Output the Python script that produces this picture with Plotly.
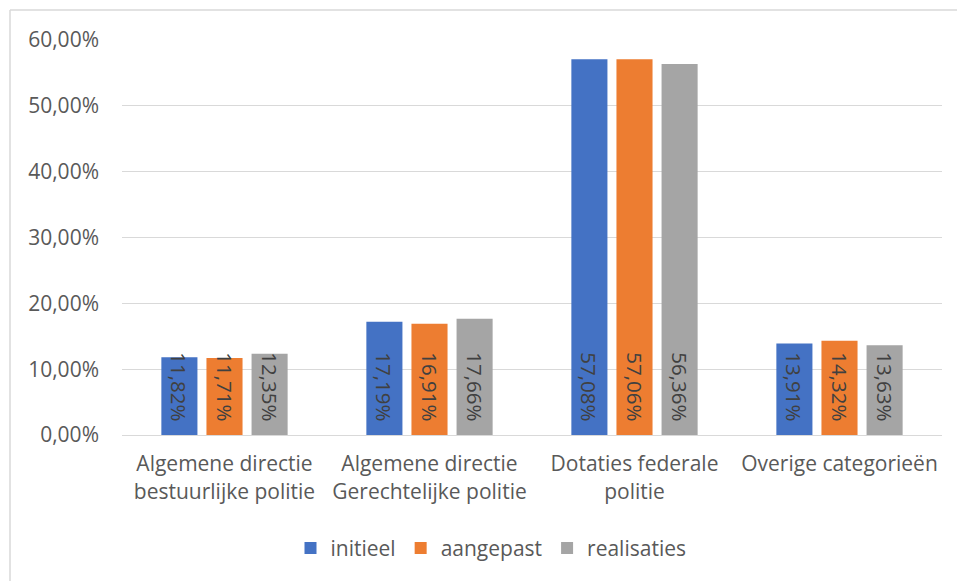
import plotly.graph_objects as go

categories = ["Algemene directie<br>bestuurlijke politie",
              "Algemene directie<br>Gerechtelijke politie",
              "Dotaties federale<br>politie",
              "Overige categorieën"]
initieel = [11.82, 17.19, 57.08, 13.91]
aangepast = [11.71, 16.91, 57.06, 14.32]
realisaties = [12.35, 17.66, 56.36, 13.63]
series_names = ["initieel", "aangepast", "realisaties"]
colors = ["#4472C4", "#ED7D31", "#A5A5A5"]
tick_vals = [0, 10, 20, 30, 40, 50, 60]
tick_text = ["0,00%", "10,00%", "20,00%", "30,00%", "40,00%", "50,00%", "60,00%"]

FONT = "Open Sans"
FS = 21
fig = go.Figure()
for name, vals, col in zip(series_names, [initieel, aangepast, realisaties], colors):
    fig.add_trace(go.Bar(
        x=categories, y=vals, name=name,
        marker=dict(color=col, line=dict(width=0)),
        texttemplate="%{y:.2f}%\u00a0\u00a0",
        textposition="inside", insidetextanchor="start",
        textangle=90, constraintext="none",
        textfont=dict(family=FONT, size=20.5, color="#404040"),
    ))

L, R, T, B = 122, 15, 40, 146
W, H = 957, 581
pw, ph = W - L - R, H - T - B
fig.update_layout(
    width=W, height=H,
    margin=dict(l=L, r=R, t=T, b=B),
    paper_bgcolor="white", plot_bgcolor="white",
    separators=",.",
    barmode="group", bargap=0.34, bargroupgap=0.2,
    font=dict(family=FONT, size=FS, color="#595959"),
    showlegend=True,
    legend=dict(orientation="h", x=0.45, xanchor="center", y=-0.235, yanchor="top",
                font=dict(family=FONT, size=FS, color="#595959"),
                itemwidth=30, traceorder="normal"),
    xaxis=dict(showgrid=False, showline=True, linecolor="#D9D9D9", linewidth=1,
               ticks="", ticklabelstandoff=10,
               tickfont=dict(family=FONT, size=FS, color="#595959")),
    yaxis=dict(range=[0, 60], tickvals=tick_vals, ticktext=tick_text,
               showgrid=True, gridcolor="#D9D9D9", gridwidth=1, zeroline=False,
               showline=False, ticklabelstandoff=22,
               tickfont=dict(family=FONT, size=FS, color="#595959")),
)
# chart area border (left and top visible)
x_left = (10 - L) / pw
y_top = 1 + (T - 10) / ph
fig.add_shape(type="line", xref="paper", yref="paper", x0=x_left, x1=x_left,
              y0=y_top, y1=-(B + 10) / ph, line=dict(color="#D9D9D9", width=1.5))
fig.add_shape(type="line", xref="paper", yref="paper", x0=x_left, x1=1 + (R + 10) / pw,
              y0=y_top, y1=y_top, line=dict(color="#D9D9D9", width=1.5))
fig.write_html("out.html")
